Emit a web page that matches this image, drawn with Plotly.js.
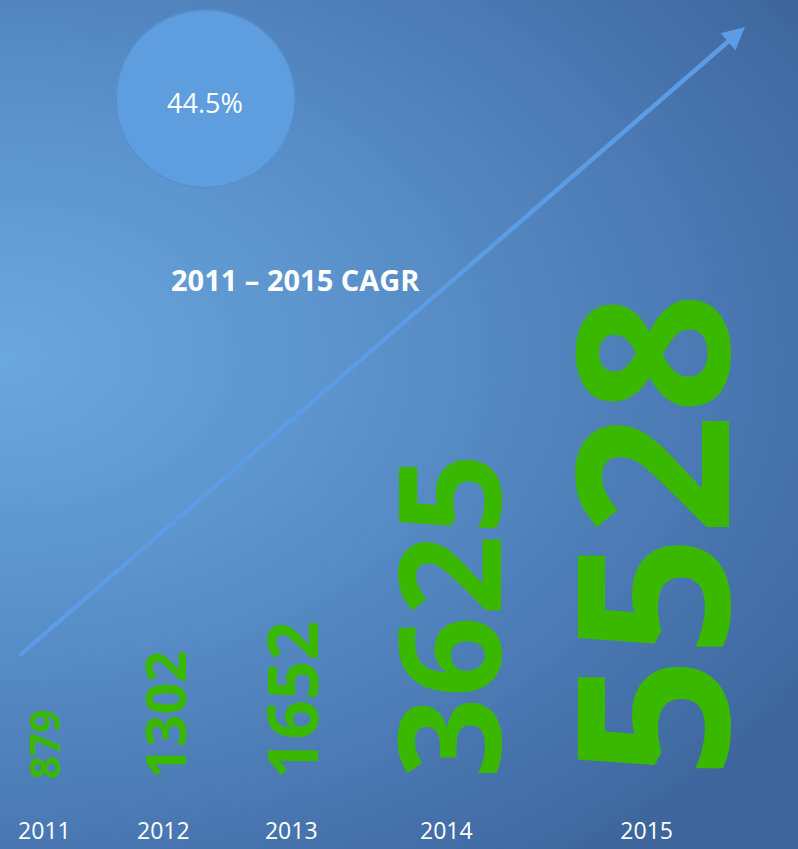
<!DOCTYPE html>
<html>
<head>
<meta charset="utf-8">
<script src="https://cdn.plot.ly/plotly-3.0.1.min.js"></script>
<style>
  html, body { margin: 0; padding: 0; }
  body {
    width: 798px; height: 849px; overflow: hidden;
    background: radial-gradient(ellipse 120% 75% at 0% 42%, #6ba8de 0%, #5b92cb 38%, #4a78b2 75%, #3e669d 100%);
  }
  #chart { width: 798px; height: 849px; }
</style>
</head>
<body>
<div id="chart"></div>
<script>
// ---- data ----
const years = ['2011', '2012', '2013', '2014', '2015'];
const values = [879, 1302, 1652, 3625, 5528];
const cagrValue = '44.5%';
const cagrLabel = '2011 \u2013 2015 CAGR';

// ---- layout helpers (derived from values) ----
// each year gets a slot that widens with its value
const slotW = values.map(v => 1 + v / 4000);
const centers = [];
let acc = 0;
slotW.forEach(w => { centers.push(acc + w / 2); acc += w; });
const fontSize = v => 8 + v * 0.037;

const green = '#3ab800';
const white = '#ffffff';
const font = 'Open Sans, Noto Sans, sans-serif';

const numberAnnotations = values.map((v, i) => ({
  x: centers[i], y: 0.042, xref: 'x', yref: 'paper',
  text: String(v), textangle: -90, showarrow: false,
  xanchor: 'center', yanchor: 'bottom',
  font: { family: font, size: fontSize(v), color: green, weight: 700 }
}));

const trace = {
  x: centers, y: values.map(() => 0.5), type: 'scatter', mode: 'markers',
  marker: { opacity: 0 }, hoverinfo: 'skip', cliponaxis: false
};

const layout = {
  width: 798, height: 849,
  margin: { l: 0, r: 0, t: 0, b: 34 },
  paper_bgcolor: 'rgba(0,0,0,0)', plot_bgcolor: 'rgba(0,0,0,0)',
  showlegend: false,
  xaxis: {
    range: [centers[0] - 0.475, centers[4] + 1.62],
    tickvals: centers, ticktext: years,
    tickfont: { family: font, size: 23, color: white },
    showgrid: false, zeroline: false, showline: false, ticks: '', fixedrange: true
  },
  yaxis: { range: [0, 1], visible: false, fixedrange: true },
  shapes: [{
    type: 'circle', xref: 'paper', yref: 'paper',
    x0: 0.1454, x1: 0.3697, y0: 0.7699, y1: 0.9878,
    fillcolor: '#5e9edf', line: { color: '#5690cf', width: 1.5 }, layer: 'above'
  }],
  annotations: [
    ...numberAnnotations,
    {
      x: 0.9336, y: 0.967, xref: 'paper', yref: 'paper',
      ax: -727, ay: 630, axref: 'pixel', ayref: 'pixel',
      text: '', showarrow: true, arrowhead: 2, arrowsize: 1,
      arrowwidth: 4.5, arrowcolor: '#5c9ce5', standoff: 0
    },
    {
      x: 0.257, y: 0.874, xref: 'paper', yref: 'paper', showarrow: false,
      xanchor: 'center', yanchor: 'middle',
      text: cagrValue, font: { family: font, size: 27, color: white }
    },
    {
      x: 0.3697, y: 0.657, xref: 'paper', yref: 'paper', showarrow: false,
      xanchor: 'center', yanchor: 'middle',
      text: cagrLabel, font: { family: font, size: 29, color: white, weight: 700 }
    }
  ]
};

Plotly.newPlot('chart', [trace], layout, { staticPlot: true, displayModeBar: false });
</script>
</body>
</html>
